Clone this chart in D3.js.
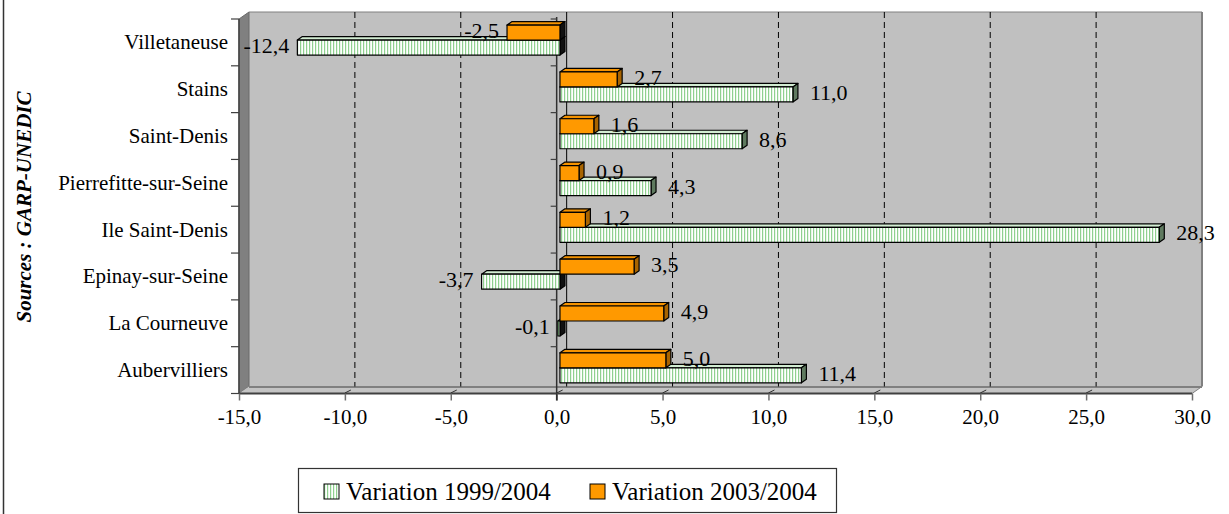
<!DOCTYPE html>
<html><head><meta charset="utf-8">
<script src="https://cdn.jsdelivr.net/npm/d3@7"></script>
<style>html,body{margin:0;padding:0;background:#fff;}svg{display:block;}</style>
</head><body>
<svg id="chart" width="1229" height="514"></svg>
<script>
const categories = ["Villetaneuse","Stains","Saint-Denis","Pierrefitte-sur-Seine","Ile Saint-Denis","Epinay-sur-Seine","La Courneuve","Aubervilliers"];
const var19992004 = [-12.4, 11.0, 8.6, 4.3, 28.3, -3.7, -0.1, 11.4];
const var20032004 = [-2.5, 2.7, 1.6, 0.9, 1.2, 3.5, 4.9, 5.0];
const seriesNames = ["Variation 1999/2004","Variation 2003/2004"];
const xTicks = [-15,-10,-5,0,5,10,15,20,25,30];
const sourceText = "Sources : GARP-UNEDIC";

const svg = d3.select("#chart");
const FONT = "'Liberation Serif','Times New Roman',serif";
const X0=239, X1=1192, Y0=19, Y1=393.5;
const DX=10, DY=-7;          // full depth of the 3D box
const BDX=3.3, BDY=-2.3;     // bar front plane offset
const SDX=5, SDY=-3.5;       // bar thickness
const BH=15;

const x = d3.scaleLinear().domain([-15,30]).range([X0,X1]);
const y = d3.scaleBand().domain(categories).range([Y0,Y1]);
const bw = y.bandwidth();
const fmt = d3.formatLocale({decimal:",",thousands:" ",grouping:[3],currency:["",""],minus:"-"}).format(".1f");

// pattern
const defs = svg.append("defs");
const pat = defs.append("pattern").attr("id","stripes").attr("patternUnits","userSpaceOnUse")
  .attr("width",3).attr("height",4);
pat.append("rect").attr("width",3).attr("height",4).attr("fill","#ffffff");
pat.append("rect").attr("x",0).attr("width",1.2).attr("height",4).attr("fill","#8fd08f");

// outer left border
svg.append("line").attr("x1",3.5).attr("x2",3.5).attr("y1",0).attr("y2",514).attr("stroke","#333").attr("stroke-width",1.5);

// back wall
svg.append("rect").attr("x",X0+DX).attr("y",Y0+DY).attr("width",X1-X0).attr("height",Y1-Y0)
  .attr("fill","#c0c0c0");
svg.append("line").attr("x1",X0+DX).attr("x2",X1+DX).attr("y1",Y0+DY).attr("y2",Y0+DY).attr("stroke","#808080").attr("stroke-width",1);
svg.append("line").attr("x1",X1+DX).attr("x2",X1+DX).attr("y1",Y0+DY).attr("y2",Y1+DY).attr("stroke","#808080").attr("stroke-width",2);

// left wall
svg.append("polygon").attr("points",[[X0,Y0],[X0+DX,Y0+DY],[X0+DX,Y1+DY],[X0,Y1]].map(p=>p.join(",")).join(" "))
  .attr("fill","#808080").attr("stroke","#6a6a6a").attr("stroke-width",1);

// floor
svg.append("polygon").attr("points",[[X0,Y1],[X1,Y1],[X1+DX,Y1+DY],[X0+DX,Y1+DY]].map(p=>p.join(",")).join(" "))
  .attr("fill","#c4c4c4");
svg.append("line").attr("x1",X0+DX).attr("x2",X1+DX).attr("y1",Y1+DY+0.5).attr("y2",Y1+DY+0.5).attr("stroke","#808080").attr("stroke-width",2);
svg.append("line").attr("x1",X1).attr("x2",X1+DX).attr("y1",Y1).attr("y2",Y1+DY).attr("stroke","#808080").attr("stroke-width",1);

// grid lines on back wall
xTicks.filter(v=>v>-15 && v<30).forEach(v=>{
  svg.append("line").attr("x1",x(v)+DX).attr("x2",x(v)+DX).attr("y1",Y0+DY).attr("y2",Y1+DY)
    .attr("stroke","#000").attr("stroke-width",1)
    .attr("stroke-dasharray", v===0 ? null : "6,4");
});

// value axis (front)
svg.append("line").attr("x1",X0).attr("x2",X1).attr("y1",Y1).attr("y2",Y1).attr("stroke","#404040").attr("stroke-width",2);
const xAxis = svg.append("g").attr("transform",`translate(0,${Y1})`)
  .call(d3.axisBottom(x).tickValues(xTicks).tickFormat(fmt).tickSize(7).tickPadding(9));
xAxis.select(".domain").remove();
xAxis.selectAll(".tick line").attr("stroke","#707070").attr("stroke-width",1.5);
xAxis.selectAll(".tick text").attr("font-family",FONT).attr("font-size","21px").attr("fill","#000");
// small floor marks
xTicks.filter(v=>v>-15 && v<30).forEach(v=>{
  svg.append("line").attr("x1",x(v)).attr("y1",Y1-0.5).attr("x2",x(v)+6).attr("y2",Y1-3.5)
    .attr("stroke","#303030").attr("stroke-width",1);
});

// category axis lines + ticks
svg.append("line").attr("x1",X0).attr("x2",X0).attr("y1",Y0).attr("y2",Y1).attr("stroke","#404040").attr("stroke-width",1.5);
svg.append("line").attr("x1",x(0)).attr("x2",x(0)).attr("y1",Y0-2).attr("y2",Y1+7).attr("stroke","#303030").attr("stroke-width",1.5);
const bounds = categories.map(c=>y(c)).concat([Y1]);
bounds.forEach(b=>{
  svg.append("line").attr("x1",X0-8).attr("x2",X0).attr("y1",b).attr("y2",b).attr("stroke","#404040").attr("stroke-width",1.2);
  svg.append("line").attr("x1",x(0)-6).attr("x2",x(0)).attr("y1",b).attr("y2",b).attr("stroke","#404040").attr("stroke-width",1.2);
});

// category labels
svg.append("g").selectAll("text").data(categories).join("text")
  .attr("x",228).attr("y",d=>y(d)+bw/2).attr("text-anchor","end").attr("dominant-baseline","central")
  .attr("font-family",FONT).attr("font-size","21px").attr("fill","#000").text(d=>d);

// bars
const series = [
  {name:seriesNames[0], values:var19992004, slot:1, front:"url(#stripes)", top:"#d2ecd2", sidePos:"#5f7a5f"},
  {name:seriesNames[1], values:var20032004, slot:0, front:"#ff9900", top:"#f59300", sidePos:"#a86400"}
];
const pad = (bw - 2*BH)/2;
const barsG = svg.append("g");
const labelsG = svg.append("g");
function pts(a){return a.map(p=>p.join(",")).join(" ");}
categories.forEach((c,i)=>{
  series.forEach(s=>{
    const v = s.values[i];
    const x0 = x(Math.min(0,v)) + BDX, x1 = x(Math.max(0,v)) + BDX;
    const y0 = y(c) + pad + BDY + s.slot*BH, y1 = y0 + BH;
    const g = barsG.append("g").attr("stroke","#000").attr("stroke-width",1.2).attr("stroke-linejoin","round");
    g.append("polygon").attr("points",pts([[x0,y0],[x1,y0],[x1+SDX,y0+SDY],[x0+SDX,y0+SDY]])).attr("fill",s.top);
    g.append("polygon").attr("points",pts([[x1,y0],[x1+SDX,y0+SDY],[x1+SDX,y1+SDY],[x1,y1]])).attr("fill", v<0 ? "#111" : s.sidePos);
    g.append("rect").attr("x",x0).attr("y",y0).attr("width",Math.max(0.5,x1-x0)).attr("height",BH).attr("fill",s.front);
    const ly = (y0+y1)/2 - 2;
    labelsG.append("text")
      .attr("x", v<0 ? x0-8 : x1+SDX+12)
      .attr("y", ly).attr("text-anchor", v<0 ? "end":"start").attr("dominant-baseline","central")
      .attr("font-family",FONT).attr("font-size","22px").attr("fill","#000").text(fmt(v));
  });
});

// source title
svg.append("text").attr("transform","translate(24,207) rotate(-90)")
  .attr("text-anchor","middle").attr("dominant-baseline","central")
  .attr("font-family",FONT).attr("font-size","21px").attr("font-weight","bold").attr("font-style","italic")
  .attr("fill","#000").text(sourceText);

// legend
const lg = svg.append("g");
lg.append("rect").attr("x",298.5).attr("y",468.5).attr("width",538).attr("height",44).attr("fill","#fff").attr("stroke","#333").attr("stroke-width",1.2);
const legendItems = [{name:seriesNames[0],fill:"url(#stripes)",x:324},{name:seriesNames[1],fill:"#ff9900",x:590}];
legendItems.forEach(it=>{
  lg.append("rect").attr("x",it.x).attr("y",484).attr("width",15).attr("height",15).attr("fill",it.fill).attr("stroke","#000").attr("stroke-width",1);
  lg.append("text").attr("x",it.x+22).attr("y",500).attr("font-family",FONT).attr("font-size","25px").attr("fill","#000").text(it.name);
});
</script>
</body></html>
